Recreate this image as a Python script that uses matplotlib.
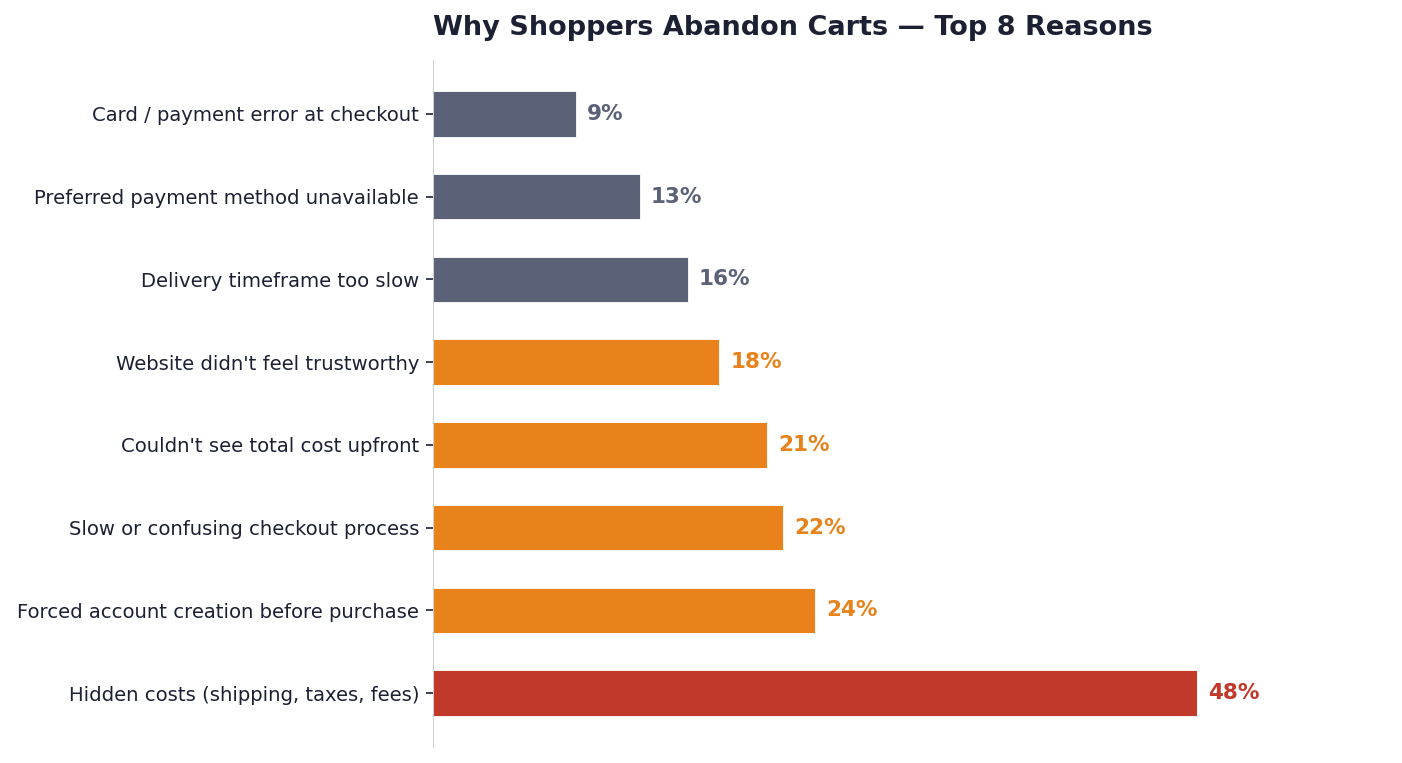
import numpy as np
import matplotlib.pyplot as plt

reasons = [
    "Hidden costs (shipping, taxes, fees)",
    "Forced account creation before purchase",
    "Slow or confusing checkout process",
    "Couldn't see total cost upfront",
    "Website didn't feel trustworthy",
    "Delivery timeframe too slow",
    "Preferred payment method unavailable",
    "Card / payment error at checkout",
]
pct = [48, 24, 22, 21, 18, 16, 13, 9]

RED = "#c0392b"
ORANGE = "#e8821a"
GREY = "#5b6176"
DARK = "#1c2033"
colors = [RED] + [ORANGE] * 4 + [GREY] * 3

fig = plt.figure(figsize=(14.02, 7.63), dpi=100)
ax = fig.add_axes([433 / 1402, 16 / 763, 891 / 1402, 687 / 763])

y = np.arange(len(reasons))
bars = ax.barh(y, pct, height=0.55, color=colors, edgecolor="white", linewidth=0.6)
ax.set_xlim(0, 56)

for b, v, c in zip(bars, pct, colors):
    ax.annotate(f"{v}%", (b.get_width(), b.get_y() + b.get_height() / 2),
                xytext=(8, 0), textcoords="offset points", va="center",
                ha="left", fontsize=15.5, fontweight="bold", color=c)

ax.set_yticks(y)
ax.set_yticklabels(reasons, fontsize=14.1, color=DARK)
ax.tick_params(axis="y", length=5, width=1.2, pad=5, color=DARK)
ax.set_xticks([])
for s in ["top", "right", "bottom"]:
    ax.spines[s].set_visible(False)
ax.spines["left"].set_color("#d0d0d0")

ax.set_title("Why Shoppers Abandon Carts \u2014 Top 8 Reasons", loc="left",
             fontsize=19.5, fontweight="bold", color=DARK, pad=18)

fig.savefig("out.png", dpi=100)
